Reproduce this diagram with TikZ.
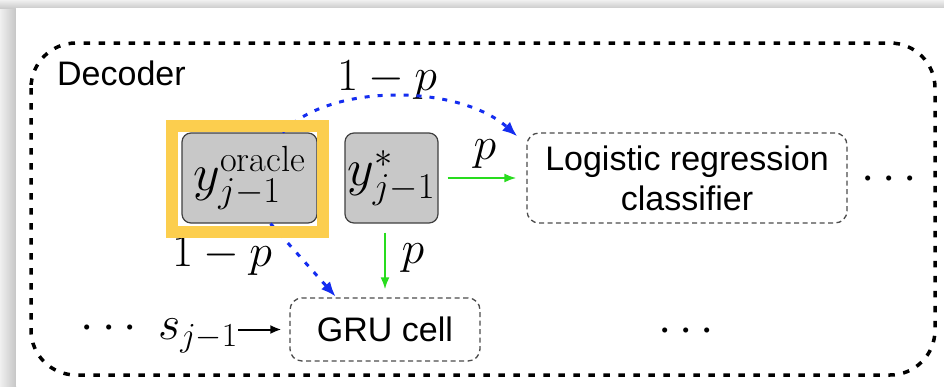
\documentclass[tikz,border=0pt]{standalone}
\usepackage{fix-cm}
\usepackage{fontspec}
\setsansfont{Liberation Sans}
\usetikzlibrary{arrows.meta}
\definecolor{hl}{RGB}{252,206,78}
\definecolor{boxgray}{RGB}{200,200,200}
\definecolor{arrblue}{RGB}{20,45,240}
\definecolor{arrgreen}{RGB}{40,220,30}
\tikzset{
 mbox/.style={draw=black!75, fill=boxgray, rounded corners=9pt, line width=1.2pt, inner sep=0pt, font=\fontsize{52}{60}\selectfont},
 dbox/.style={draw=black!70, dash pattern=on 5pt off 3.5pt, rounded corners=12pt, line width=1.3pt, inner sep=0pt, font=\sffamily\fontsize{34}{40}\selectfont, align=center},
 lab/.style={inner sep=0pt, anchor=base, font=\fontsize{46}{54}\selectfont},
 dotlab/.style={inner sep=0pt, anchor=base, font=\fontsize{48}{56}\selectfont},
 barrow/.style={draw=arrblue, line width=3pt, dash pattern=on 5pt off 8pt, -{Latex[length=15pt,width=12pt]}},
 garrow/.style={draw=arrgreen, line width=2pt, -{Latex[length=12pt,width=9pt]}},
 karrow/.style={draw=black, line width=2pt, -{Latex[length=11pt,width=9pt]}},
 outerbox/.style={draw=black, line width=3.5pt, dash pattern=on 6.5pt off 8.5pt, rounded corners=45pt},
 hlframe/.style={draw=hl, line width=12pt},
}
\begin{document}
\begin{tikzpicture}[x=1pt,y=-1pt]
\useasboundingbox (0,0) rectangle (944,386);
\shade[left color=gray!12, right color=gray!45] (0,0) rectangle (16,386);
\shade[top color=gray!12, bottom color=gray!40] (0,0) rectangle (944,8);
\fill[white] (16,8) rectangle (944,386);
\draw[outerbox] (31,43) rectangle (935,375);
\node[anchor=base west, inner sep=0pt, font=\sffamily\fontsize{34}{40}\selectfont] (dec) at (57,85) {Decoder};
\node[mbox, minimum width=135pt, minimum height=90pt] (oracle) at (249.5,178) {$y^{\mathrm{oracle}}_{j-1}$};
\node[mbox, minimum width=93pt, minimum height=90pt] (ystar) at (391.5,178) {$y^{*}_{j-1}$};
\node[dbox, minimum width=320pt, minimum height=90pt] (logit) at (687,178) {Logistic regression\\classifier};
\node[dbox, minimum width=190pt, minimum height=63pt] (gru) at (385,329.5) {GRU cell};
\node[lab] (l1) at (387,90) {$1-p$};
\node[lab] (l2) at (222,266) {$1-p$};
\node[lab] (l3) at (485,159) {$p$};
\node[lab] (l4) at (413,263) {$p$};
\node[dotlab, anchor=base east] (sin) at (238,339) {$\cdots\; s_{j-1}$};
\node[dotlab] (dr) at (889,190) {$\cdots$};
\node[dotlab] (db) at (686,342) {$\cdots$};
\draw[garrow, shorten <=9pt, shorten >=10pt] (ystar) -- (logit);
\draw[garrow, shorten <=9pt, shorten >=8pt] (gru.north |- ystar.south) -- (gru.north);
\draw[karrow, shorten >=8pt] (sin.east |- gru.west) -- (gru.west);
\draw[barrow, shorten >=1pt] ([xshift=21pt]oracle.south) -- ([xshift=47pt]gru.north west);
\draw[barrow] ([xshift=33pt]oracle.north) .. controls +(48,-50) and +(-58,-52) .. ([xshift=-9pt,yshift=-4pt]logit.north west);
\draw[hlframe] (172,126) rectangle (323,232);
\end{tikzpicture}
\end{document}
